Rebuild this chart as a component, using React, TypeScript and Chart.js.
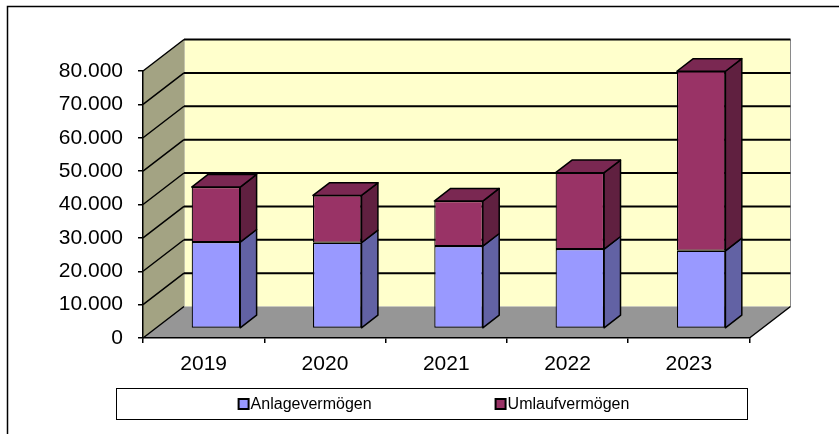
import React, { useEffect, useRef } from 'react';
import { Chart, registerables } from 'chart.js';

Chart.register(...registerables);

const categories = ['2019', '2020', '2021', '2022', '2023'];
const anlageValues = [25900, 25700, 24700, 23800, 23300];
const umlaufValues = [16500, 14200, 13500, 22900, 53800];
const yTickValues = [0, 10000, 20000, 30000, 40000, 50000, 60000, 70000, 80000];
const seriesNames = ['Anlagevermögen', 'Umlaufvermögen'];

const FONT = '"Liberation Sans", Arial, Helvetica, sans-serif';
const W = 839;
const H = 434;
const DEPTH = { x: 41, y: -31.5 };
const BAR_FRONT = 0.3;
const BAR_BACK = 0.7;

const COLORS = [
  { front: '#9999FF', side: '#6262A4', top: '#7C7CCC' },
  { front: '#993366', side: '#602040', top: '#7A2852' },
];

function fmt(v: number): string {
  return String(v).replace(/\B(?=(\d{3})+(?!\d))/g, '.');
}

const wallsPlugin = {
  id: 'walls3d',
  beforeDraw(chart: any) {
    const ctx = chart.ctx as CanvasRenderingContext2D;
    const { left, right, top, bottom } = chart.chartArea;
    const ys = chart.scales.y;
    const dx = DEPTH.x;
    const dy = DEPTH.y;
    ctx.save();
    ctx.fillStyle = '#ffffff';
    ctx.fillRect(0, 0, chart.width, chart.height);
    // outer frame
    ctx.strokeStyle = '#000';
    ctx.lineWidth = 1.5;
    ctx.strokeRect(7.5, 6.5, chart.width + 20, chart.height + 20);

    // back wall
    ctx.fillStyle = '#FFFFCC';
    ctx.fillRect(left + dx, top + dy, right - left, bottom - top);
    ctx.strokeStyle = '#8a8a8a';
    ctx.lineWidth = 1;
    ctx.beginPath();
    ctx.moveTo(right + dx, top + dy);
    ctx.lineTo(right + dx, bottom + dy);
    ctx.moveTo(left + dx, top + dy);
    ctx.lineTo(left + dx, bottom + dy);
    ctx.stroke();

    // side wall
    ctx.fillStyle = '#A3A383';
    ctx.beginPath();
    ctx.moveTo(left, top);
    ctx.lineTo(left + dx, top + dy);
    ctx.lineTo(left + dx, bottom + dy);
    ctx.lineTo(left, bottom);
    ctx.closePath();
    ctx.fill();

    // floor
    ctx.fillStyle = '#969696';
    ctx.beginPath();
    ctx.moveTo(left, bottom);
    ctx.lineTo(left + dx, bottom + dy);
    ctx.lineTo(right + dx, bottom + dy);
    ctx.lineTo(right, bottom);
    ctx.closePath();
    ctx.fill();

    // gridlines on back wall
    ctx.strokeStyle = '#000';
    ctx.lineWidth = 2;
    ctx.beginPath();
    yTickValues.forEach((v) => {
      if (v === 0) return;
      const y = ys.getPixelForValue(v) + dy;
      ctx.moveTo(left + dx, y);
      ctx.lineTo(right + dx, y);
    });
    ctx.stroke();

    // diagonals on side wall
    ctx.lineWidth = 1.5;
    ctx.beginPath();
    yTickValues.forEach((v) => {
      const y = ys.getPixelForValue(v);
      ctx.moveTo(left, y);
      ctx.lineTo(left + dx, y + dy);
    });
    // floor right edge
    ctx.moveTo(right, bottom);
    ctx.lineTo(right + dx, bottom + dy);
    ctx.stroke();
    ctx.restore();
  },
};

const bars3dPlugin = {
  id: 'bars3d',
  beforeDatasetsDraw(chart: any) {
    const ctx = chart.ctx as CanvasRenderingContext2D;
    ctx.save();
    ctx.translate(DEPTH.x * BAR_FRONT, DEPTH.y * BAR_FRONT);
  },
  afterDatasetsDraw(chart: any) {
    const ctx = chart.ctx as CanvasRenderingContext2D;
    ctx.restore();
    const fx = DEPTH.x * BAR_FRONT;
    const fy = DEPTH.y * BAR_FRONT;
    const bx = DEPTH.x * BAR_BACK;
    const by = DEPTH.y * BAR_BACK;
    const n = chart.data.datasets.length;
    ctx.save();
    ctx.strokeStyle = '#000';
    ctx.lineWidth = 1.5;
    ctx.lineJoin = 'round';
    for (let d = 0; d < n; d++) {
      const meta = chart.getDatasetMeta(d);
      const col = COLORS[d];
      meta.data.forEach((el: any) => {
        const p = el.getProps(['x', 'y', 'base', 'width'], true);
        const xl = p.x - p.width / 2;
        const xr = p.x + p.width / 2;
        const yTop = Math.min(p.y, p.base);
        const yBot = Math.max(p.y, p.base);
        // side
        ctx.fillStyle = col.side;
        ctx.beginPath();
        ctx.moveTo(xr + fx, yTop + fy);
        ctx.lineTo(xr + bx, yTop + by);
        ctx.lineTo(xr + bx, yBot + by);
        ctx.lineTo(xr + fx, yBot + fy);
        ctx.closePath();
        ctx.fill();
        ctx.stroke();
        if (d === n - 1) {
          ctx.fillStyle = col.top;
          ctx.beginPath();
          ctx.moveTo(xl + fx, yTop + fy);
          ctx.lineTo(xl + bx, yTop + by);
          ctx.lineTo(xr + bx, yTop + by);
          ctx.lineTo(xr + fx, yTop + fy);
          ctx.closePath();
          ctx.fill();
          ctx.stroke();
        }
      });
    }
    ctx.restore();
  },
};

const legendPlugin = {
  id: 'boxLegend',
  afterDraw(chart: any) {
    const ctx = chart.ctx as CanvasRenderingContext2D;
    const boxL = 116.5;
    const boxT = 388.5;
    const boxW = 631;
    const boxH = 31;
    ctx.save();
    ctx.strokeStyle = '#000';
    ctx.lineWidth = 1;
    ctx.strokeRect(boxL, boxT, boxW, boxH);
    ctx.font = `16px ${FONT}`;
    ctx.textBaseline = 'middle';
    ctx.textAlign = 'left';
    const sq = 10;
    const gapText = 2;
    const gapItems = 124;
    const items = chart.data.datasets.map((ds: any, i: number) => ({
      label: ds.label as string,
      color: COLORS[i].front,
      w: sq + gapText + ctx.measureText(ds.label).width,
    }));
    const total = items.reduce((s: number, it: any) => s + it.w, 0) + gapItems * (items.length - 1);
    let x = boxL + boxW / 2 - total / 2 + 2;
    const cy = boxT + boxH / 2;
    items.forEach((it: any) => {
      ctx.fillStyle = it.color;
      ctx.fillRect(x, cy - sq / 2, sq, sq);
      ctx.lineWidth = 2;
      ctx.strokeStyle = '#000';
      ctx.strokeRect(x, cy - sq / 2, sq, sq);
      ctx.fillStyle = '#000';
      ctx.fillText(it.label, x + sq + gapText, cy + 0.5);
      x += it.w + gapItems;
    });
    ctx.restore();
  },
};

export default function App() {
  const ref = useRef<HTMLCanvasElement | null>(null);
  useEffect(() => {
    if (!ref.current) return;
    const chart = new Chart(ref.current, {
      type: 'bar',
      data: {
        labels: categories,
        datasets: [
          {
            label: seriesNames[0],
            data: anlageValues,
            backgroundColor: COLORS[0].front,
            borderColor: '#000',
            borderWidth: 1.2,
            borderSkipped: false,
            categoryPercentage: 1,
            barPercentage: 0.4,
          },
          {
            label: seriesNames[1],
            data: umlaufValues,
            backgroundColor: COLORS[1].front,
            borderColor: '#000',
            borderWidth: 1.2,
            borderSkipped: false,
            categoryPercentage: 1,
            barPercentage: 0.4,
          },
        ],
      },
      options: {
        responsive: false,
        animation: false,
        devicePixelRatio: 1,
        clip: false as any,
        layout: { padding: { left: 0, top: 71, right: 89.5, bottom: 56 } },
        plugins: {
          legend: { display: false },
          tooltip: { enabled: false },
        },
        scales: {
          x: {
            stacked: true,
            afterFit: (s: any) => {
              s.height = 40;
            },
            grid: {
              offset: true,
              drawOnChartArea: false,
              drawTicks: true,
              tickLength: 5,
              color: '#000',
              lineWidth: 1.5,
            },
            border: { display: true, color: '#000', width: 1.5 },
            ticks: {
              color: '#000',
              padding: 9,
              font: { family: FONT, size: 21 },
            },
          },
          y: {
            stacked: true,
            min: 0,
            max: 80000,
            afterFit: (s: any) => {
              s.width = 143;
            },
            afterBuildTicks: (s: any) => {
              s.ticks = yTickValues.map((v) => ({ value: v }));
            },
            grid: {
              drawOnChartArea: false,
              drawTicks: true,
              tickLength: 5,
              color: '#000',
              lineWidth: 1.5,
            },
            border: { display: true, color: '#000', width: 1.5 },
            ticks: {
              color: '#000',
              padding: 15,
              font: { family: FONT, size: 21 },
              callback: (v: any) => fmt(Number(v)),
            },
          },
        },
      },
      plugins: [wallsPlugin, bars3dPlugin, legendPlugin],
    });
    return () => chart.destroy();
  }, []);
  return (
    <div style={{ position: 'absolute', left: 0, top: 0, width: W, height: H }}>
      <canvas ref={ref} width={W} height={H} style={{ display: 'block' }} />
    </div>
  );
}
